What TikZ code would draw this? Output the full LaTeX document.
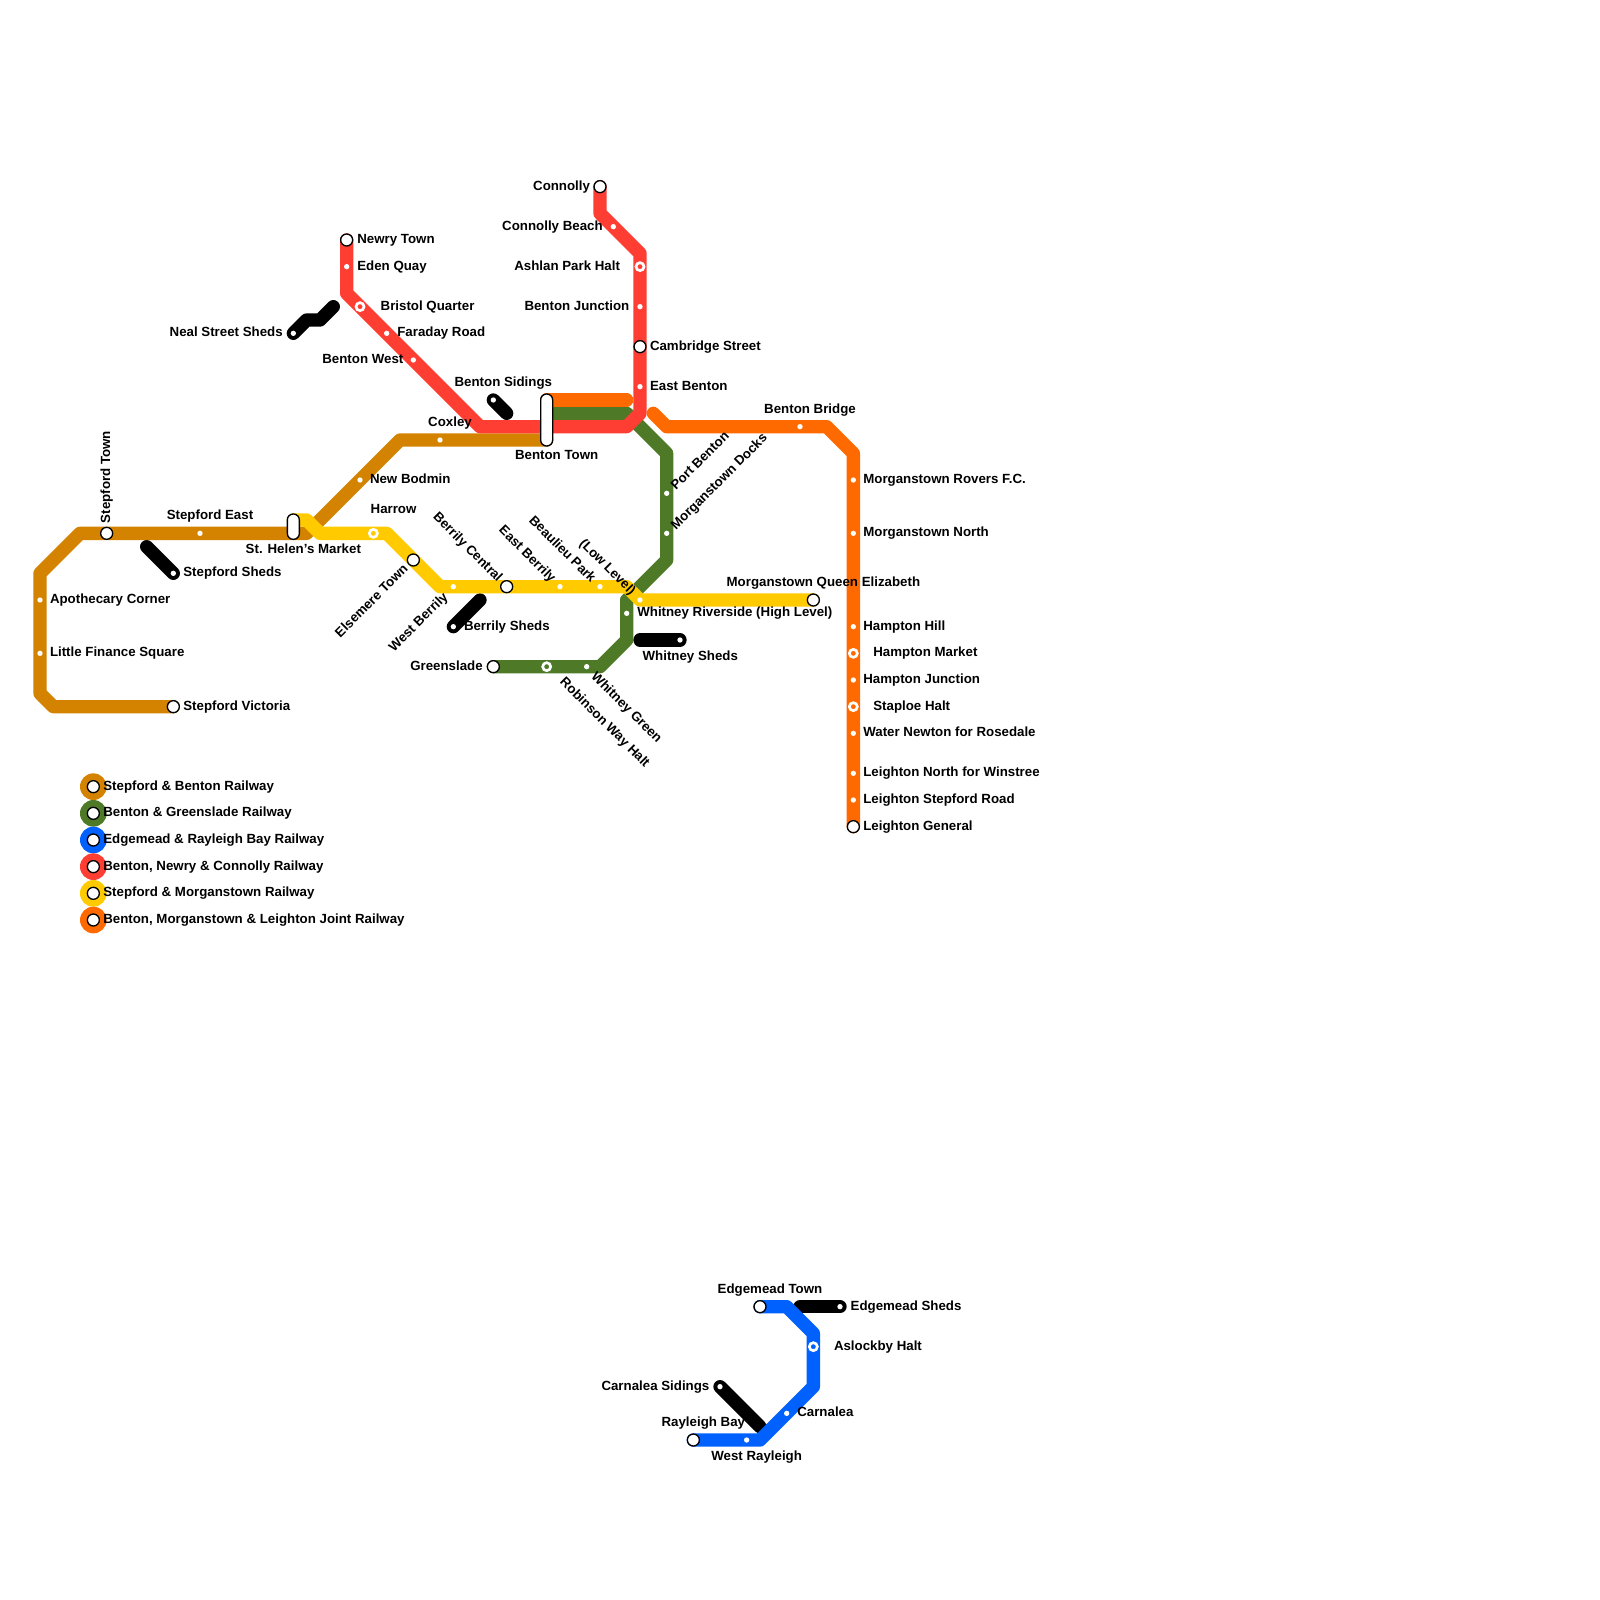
\documentclass[tikz,border=0pt]{standalone}
\usepackage{fontspec}
\setmainfont{Liberation Sans}
\usepackage{xcolor}
\usepackage{tikz}
\usetikzlibrary{backgrounds}
\definecolor{tanline}{HTML}{D38300}
\definecolor{greenline}{HTML}{4E7A27}
\definecolor{blueline}{HTML}{0061FE}
\definecolor{redline}{HTML}{FF3E33}
\definecolor{yellowline}{HTML}{FFCB00}
\definecolor{orangeline}{HTML}{FF6A00}
\tikzset{
  route/.style={line width=0.25cm, line join=round, line cap=round},
  lbl/.style={inner sep=0pt, outer sep=0pt, yshift=-0.25pt, font=\bfseries\fontsize{7.09pt}{8pt}\selectfont, text height=5.1pt, text depth=0pt},
  stop/.style={circle, fill=white, inner sep=0pt, minimum size=0.1cm},
  halt/.style={circle, draw=white, line width=0.05cm, inner sep=0pt, minimum size=0.15cm},
  term/.style={circle, draw=black, fill=white, line width=0.025cm, inner sep=0pt, minimum size=0.225cm},
  pill/.style={draw=black, fill=white, line width=0.025cm, inner sep=0pt, minimum width=0.225cm, rounded corners=0.11cm},
  keyring/.style={circle, inner sep=0pt, minimum size=0.5cm}
}

\begin{document}
\begin{tikzpicture}[x=0.25cm, y=-0.25cm]
  \useasboundingbox (0,0) rectangle (120,120);

  % Stepford & Benton stations
  \node[term] (stepfordvictoria) at (13,53) {};
  \node[stop] (littlefinance) at (3,49) {};
  \node[stop] (apothecary) at (3,45) {};
  \node[term] (stepfordtown) at (8,40) {};
  \node[stop] (stepfordeast) at (15,40) {};
  \node[pill, minimum height=0.475cm] (sthelens) at (22,39.5) {};
  \node[stop] (newbodmin) at (27,36) {};
  \node[stop] (coxley) at (33,33) {};
  \node[pill, minimum height=0.975cm] (bentontown) at (41,31.5) {};
  \node[lbl, anchor=west] (stepfordvictorial) at (13.75,52.87) {Stepford Victoria};
  \node[lbl, anchor=west] (littlefinancel) at (3.75,48.87) {Little Finance Square};
  \node[lbl, anchor=west] (apothecaryl) at (3.75,44.87) {Apothecary Corner};
  \node[lbl, anchor=west, rotate=90] (stepfordtownl) at (7.9,39.2) {Stepford Town};
  \node[lbl] (stepfordeastl) at (15.75,38.6) {Stepford East};
  \node[lbl] (sthelensl) at (22.75,41.1) {St. Helen’s Market};
  \node[lbl, anchor=west] (newbodminl) at (27.75,35.87) {New Bodmin};
  \node[lbl] (coxleyl) at (33.75,31.6) {Coxley};
  \node[lbl] (bentontownl) at (41.75,34.1) {Benton Town};

  % Benton & Greenslade stations
  \node[stop] (portbenton) at (50,37) {};
  \node[stop] (morganstowndocks) at (50,40) {};
  \node[stop] (whitneylow) at (47,46) {};
  \node[stop] (whitneygreen) at (44,50) {};
  \node[halt] (robinsonway) at (41,50) {};
  \node[term] (greenslade) at (37,50) {};
  \node[lbl, anchor=west, rotate=45] (portbentonl) at (50.45,36.5) {Port Benton};
  \node[lbl, anchor=west, rotate=45] (morganstowndocksl) at (50.45,39.5) {Morganstown Docks};
  \node[lbl, anchor=east, rotate=-45] (whitneylowl) at (47.55,44.4) {(Low Level)};
  \node[lbl, anchor=west, rotate=-45] (whitneygreenl) at (44.55,50.5) {Whitney Green};
  \node[lbl, anchor=west, rotate=-45] (robinsonwayl) at (42.2,50.9) {Robinson Way Halt};
  \node[lbl, anchor=east] (greensladel) at (36.2,49.87) {Greenslade};

  % Edgemead & Rayleigh Bay stations
  \node[term] (edgemeadtown) at (57,98) {};
  \node[halt] (aslockby) at (61,101) {};
  \node[stop] (carnalea) at (59,106) {};
  \node[stop] (westrayleigh) at (56,108) {};
  \node[term] (rayleighbay) at (52,108) {};
  \node[lbl] (edgemeadtownl) at (57.75,96.63) {Edgemead Town};
  \node[lbl, anchor=west] (aslockbyl) at (62.55,100.87) {Aslockby Halt};
  \node[lbl, anchor=west] (carnaleal) at (59.8,105.87) {Carnalea};
  \node[lbl] (westrayleighl) at (56.75,109.13) {West Rayleigh};
  \node[lbl] (rayleighbayl) at (52.75,106.63) {Rayleigh Bay};

  % Benton, Newry & Connolly stations
  \node[term] (newrytown) at (26,18) {};
  \node[stop] (edenquay) at (26,20) {};
  \node[halt] (bristolquarter) at (27,23) {};
  \node[stop] (faradayroad) at (29,25) {};
  \node[stop] (bentonwest) at (31,27) {};
  \node[stop] (eastbenton) at (48,29) {};
  \node[term] (cambridgestreet) at (48,26) {};
  \node[stop] (bentonjunction) at (48,23) {};
  \node[halt] (ashlanpark) at (48,20) {};
  \node[stop] (connollybeach) at (46,17) {};
  \node[term] (connolly) at (45,14) {};
  \node[lbl, anchor=west] (newrytownl) at (26.8,17.87) {Newry Town};
  \node[lbl, anchor=west] (edenquayl) at (26.8,19.87) {Eden Quay};
  \node[lbl, anchor=west] (bristolquarterl) at (28.55,22.87) {Bristol Quarter};
  \node[lbl, anchor=west] (faradayroadl) at (29.8,24.87) {Faraday Road};
  \node[lbl, anchor=east] (bentonwestl) at (30.25,26.87) {Benton West};
  \node[lbl, anchor=west] (eastbentonl) at (48.75,28.87) {East Benton};
  \node[lbl, anchor=west] (cambridgestreetl) at (48.75,25.87) {Cambridge Street};
  \node[lbl, anchor=east] (bentonjunctionl) at (47.2,22.87) {Benton Junction};
  \node[lbl, anchor=east] (ashlanparkl) at (46.5,19.87) {Ashlan Park Halt};
  \node[lbl, anchor=east] (connollybeachl) at (45.2,16.87) {Connolly Beach};
  \node[lbl, anchor=east] (connollyl) at (44.25,13.87) {Connolly};

  % Stepford & Morganstown stations
  \node[halt] (harrow) at (28,40) {};
  \node[term] (elsemere) at (31,42) {};
  \node[stop] (westberrily) at (34,44) {};
  \node[term] (berrilycentral) at (38,44) {};
  \node[stop] (eastberrily) at (42,44) {};
  \node[stop] (beaulieu) at (45,44) {};
  \node[stop] (whitneyhigh) at (48,45) {};
  \node[term] (morganstownqueen) at (61,45) {};
  \node[lbl, anchor=west] (harrowl) at (27.8,38.13) {Harrow};
  \node[lbl, anchor=east, rotate=45] (elsemerel) at (30.4,42.45) {Elsemere Town};
  \node[lbl, anchor=east, rotate=45] (westberrilyl) at (33.4,44.55) {West Berrily};
  \node[lbl, anchor=east, rotate=-45] (berrilycentrall) at (37.55,43.4) {Berrily Central};
  \node[lbl, anchor=east, rotate=-45] (eastberrilyl) at (41.55,43.45) {East Berrily};
  \node[lbl, anchor=east, rotate=-45] (beaulieul) at (44.55,43.45) {Beaulieu Park};
  \node[lbl, anchor=west] (whitneyhighl) at (47.8,45.87) {Whitney Riverside (High Level)};
  \node[lbl, anchor=west] (morganstownqueenl) at (54.5,43.63) {Morganstown Queen Elizabeth};

  % Benton, Morganstown & Leighton stations
  \node[stop] (bentonbridge) at (60,32) {};
  \node[stop] (roversfc) at (64,36) {};
  \node[stop] (morganstownnorth) at (64,40) {};
  \node[stop] (hamptonhill) at (64,47) {};
  \node[halt] (hamptonmarket) at (64,49) {};
  \node[stop] (hamptonjunction) at (64,51) {};
  \node[halt] (staploe) at (64,53) {};
  \node[stop] (waternewton) at (64,55) {};
  \node[stop] (leightonnorth) at (64,58) {};
  \node[stop] (leightonstepford) at (64,60) {};
  \node[term] (leightongeneral) at (64,62) {};
  \node[lbl] (bentonbridgel) at (60.75,30.63) {Benton Bridge};
  \node[lbl, anchor=west] (roversfcl) at (64.75,35.87) {Morganstown Rovers F.C.};
  \node[lbl, anchor=west] (morganstownnorthl) at (64.75,39.87) {Morganstown North};
  \node[lbl, anchor=west] (hamptonhilll) at (64.75,46.87) {Hampton Hill};
  \node[lbl, anchor=west] (hamptonmarketl) at (65.5,48.87) {Hampton Market};
  \node[lbl, anchor=west] (hamptonjunctionl) at (64.75,50.87) {Hampton Junction};
  \node[lbl, anchor=west] (staploel) at (65.5,52.87) {Staploe Halt};
  \node[lbl, anchor=west] (waternewtonl) at (64.75,54.87) {Water Newton for Rosedale};
  \node[lbl, anchor=west] (leightonnorthl) at (64.75,57.87) {Leighton North for Winstree};
  \node[lbl, anchor=west] (leightonstepfordl) at (64.75,59.87) {Leighton Stepford Road};
  \node[lbl, anchor=west] (leightongenerall) at (64.75,61.87) {Leighton General};

  % Sheds
  \node[stop] (stepfordsheds) at (13,43) {};
  \node[stop] (nealsheds) at (22,25) {};
  \node[stop] (bentonsidings) at (37,30) {};
  \node[stop] (berrilysheds) at (34,47) {};
  \node[stop] (whitneysheds) at (51,48) {};
  \node[stop] (edgemeadsheds) at (63,98) {};
  \node[stop] (carnaleasidings) at (54,104) {};
  \node[lbl, anchor=west] (stepfordshedsl) at (13.75,42.87) {Stepford Sheds};
  \node[lbl, anchor=east] (nealshedsl) at (21.2,24.87) {Neal Street Sheds};
  \node[lbl] (bentonsidingsl) at (37.75,28.6) {Benton Sidings};
  \node[lbl, anchor=west] (berrilyshedsl) at (34.8,46.87) {Berrily Sheds};
  \node[lbl, anchor=west] (whitneyshedsl) at (48.2,49.13) {Whitney Sheds};
  \node[lbl, anchor=west] (edgemeadshedsl) at (63.8,97.87) {Edgemead Sheds};
  \node[lbl, anchor=east] (carnaleasidingsl) at (53.2,103.87) {Carnalea Sidings};

  % Key
  \node[keyring, fill=tanline] (keytan) at (7,59) {};
  \node[keyring, fill=greenline] (keygreen) at (7,61) {};
  \node[keyring, fill=blueline] (keyblue) at (7,63) {};
  \node[keyring, fill=redline] (keyred) at (7,65) {};
  \node[keyring, fill=yellowline] (keyyellow) at (7,67) {};
  \node[keyring, fill=orangeline] (keyorange) at (7,69) {};
  \node[term] (keytanin) at (keytan) {};
  \node[term] (keygreenin) at (keygreen) {};
  \node[term] (keybluein) at (keyblue) {};
  \node[term] (keyredin) at (keyred) {};
  \node[term] (keyyellowin) at (keyyellow) {};
  \node[term] (keyorangein) at (keyorange) {};
  \node[lbl, anchor=west] (keytanl) at (7.75,58.87) {Stepford \& Benton Railway};
  \node[lbl, anchor=west] (keygreenl) at (7.75,60.87) {Benton \& Greenslade Railway};
  \node[lbl, anchor=west] (keybluel) at (7.75,62.87) {Edgemead \& Rayleigh Bay Railway};
  \node[lbl, anchor=west] (keyredl) at (7.75,64.87) {Benton, Newry \& Connolly Railway};
  \node[lbl, anchor=west] (keyyellowl) at (7.75,66.87) {Stepford \& Morganstown Railway};
  \node[lbl, anchor=west] (keyorangel) at (7.75,68.87) {Benton, Morganstown \& Leighton Joint Railway};

  % Free ends and corners
  \coordinate (btntan) at (41,33);
  \coordinate (btngreen) at (41,31);
  \coordinate (btnred) at (41,32);
  \coordinate (btnorange) at (41,30);
  \coordinate (tan1) at (4,53);
  \coordinate (tan2) at (3,52);
  \coordinate (tan3) at (3,43);
  \coordinate (tan4) at (6,40);
  \coordinate (tan5) at (23,40);
  \coordinate (tan6) at (30,33);
  \coordinate (green1) at (47,31);
  \coordinate (green2) at (50,34);
  \coordinate (green3) at (50,42);
  \coordinate (green4) at (47,45);
  \coordinate (green5) at (47,48);
  \coordinate (green6) at (45,50);
  \coordinate (blue1) at (59,98);
  \coordinate (blue2) at (61,100);
  \coordinate (blue3) at (61,104);
  \coordinate (blue4) at (57,108);
  \coordinate (red1) at (26,22);
  \coordinate (red2) at (36,32);
  \coordinate (red3) at (47,32);
  \coordinate (red4) at (48,31);
  \coordinate (red5) at (48,19);
  \coordinate (red6) at (45,16);
  \coordinate (yellow1) at (22,39);
  \coordinate (yellow2) at (23,39);
  \coordinate (yellow3) at (24,40);
  \coordinate (yellow4) at (29,40);
  \coordinate (yellow5) at (33,44);
  \coordinate (yellow6) at (47,44);
  \coordinate (orange1) at (47,30);
  \coordinate (orange2) at (49,31);
  \coordinate (orange3) at (50,32);
  \coordinate (orange4) at (62,32);
  \coordinate (orange5) at (64,34);
  \coordinate (neal1) at (23,24);
  \coordinate (neal2) at (24,24);
  \coordinate (neal3) at (25,23);
  \coordinate (stepfordend) at (11,41);
  \coordinate (sidingsend) at (38,31);
  \coordinate (berrilyend) at (36,45);
  \coordinate (whitneyend) at (48,48);
  \coordinate (edgemeadend) at (60,98);
  \coordinate (carnaleaend) at (57,107);

  \begin{pgfonlayer}{background}
    \fill[white] (0,0) rectangle (120,120);

    % Sheds tracks
    \draw[route, black] (stepfordsheds.center) -- (stepfordend);
    \draw[route, black] (nealsheds.center) -- (neal1) -- (neal2) -- (neal3);
    \draw[route, black] (bentonsidings.center) -- (sidingsend);
    \draw[route, black] (berrilysheds.center) -- (berrilyend);
    \draw[route, black] (whitneysheds.center) -- (whitneyend);
    \draw[route, black] (edgemeadsheds.center) -- (edgemeadend);
    \draw[route, black] (carnaleasidings.center) -- (carnaleaend);

    % Lines
    \draw[route, tanline] (stepfordvictoria.center) -- (tan1) -- (tan2) -- (tan3) -- (tan4) -- (tan5) -- (tan6) -- (btntan);
    \draw[route, greenline] (btngreen) -- (green1) -- (green2) -- (green3) -- (green4) -- (green5) -- (green6) -- (greenslade.center);
    \draw[route, blueline] (edgemeadtown.center) -- (blue1) -- (blue2) -- (blue3) -- (blue4) -- (rayleighbay.center);
    \draw[route, redline] (newrytown.center) -- (red1) -- (red2) -- (red3) -- (red4) -- (red5) -- (red6) -- (connolly.center);
    \draw[route, yellowline] (yellow1) -- (yellow2) -- (yellow3) -- (yellow4) -- (yellow5) -- (yellow6) -- (whitneyhigh.center) -- (morganstownqueen.center);
    \draw[route, orangeline] (btnorange) -- (orange1);
    \draw[route, orangeline] (orange2) -- (orange3) -- (orange4) -- (orange5) -- (leightongeneral.center);
  \end{pgfonlayer}
\end{tikzpicture}
\end{document}
